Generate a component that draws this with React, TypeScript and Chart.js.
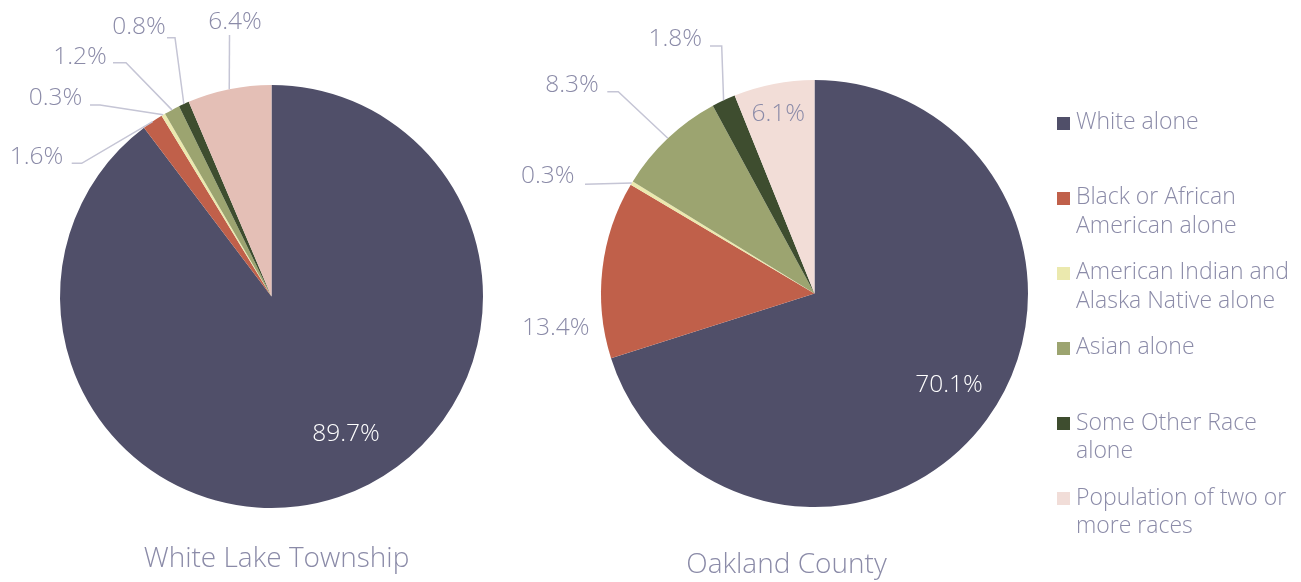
import React, { useEffect, useRef } from "react";
import { Chart, registerables } from "chart.js";

Chart.register(...registerables);

// ---------- data ----------
const categories = [
  "White alone",
  "Black or African American alone",
  "American Indian and Alaska Native alone",
  "Asian alone",
  "Some Other Race alone",
  "Population of two or more races",
];
const legendLines = [
  ["White alone"],
  ["Black or African", "American alone"],
  ["American Indian and", "Alaska Native alone"],
  ["Asian alone"],
  ["Some Other Race", "alone"],
  ["Population of two or", "more races"],
];
const whiteLakeValues = [89.7, 1.6, 0.3, 1.2, 0.8, 6.4];
const oaklandValues = [70.1, 13.4, 0.3, 8.3, 1.8, 6.1];
const chartTitles = ["White Lake Township", "Oakland County"];

// ---------- styles ----------
const legendColors = ["#504f69", "#c0604a", "#ebe9ae", "#9ca470", "#3e4d2f", "#f1ddd8"];
const whiteLakeColors = ["#504f69", "#c0604a", "#ebe9ae", "#9ca470", "#3e4d2f", "#e4bfb6"];
const oaklandColors = ["#504f69", "#c0604a", "#ebe9ae", "#9ca470", "#3e4d2f", "#f2ddd7"];
const TEXT = "#8b8ba8";
const LINE = "#c5c5d5";
const FONT = '"Open Sans", "Noto Sans", sans-serif';
const LABEL_SIZE = 24.5;
const LEGEND_SIZE = 23;
const TITLE_SIZE = 28;

type LabelLayout = { dx: number; dy: number; color: string; line?: [number, number][] };

// label placement, offsets (px) from the pie centre
const whiteLakeLayout: LabelLayout[] = [
  { dx: 74.5, dy: 144.2, color: "#ffffff" },
  { dx: -235, dy: -132.2, color: TEXT, line: [[-199.8, -133.2], [-189.8, -133.2]] },
  { dx: -216, dy: -191.5, color: TEXT, line: [[-181.5, -191.5], [-171.5, -191.5]] },
  { dx: -191.5, dy: -232.2, color: TEXT, line: [[-158.5, -233.8], [-145.5, -233.8]] },
  { dx: -132.5, dy: -262.5, color: TEXT, line: [[-104.5, -258.8], [-96.5, -258.8]] },
  { dx: -36.5, dy: -267.2, color: TEXT, line: [[-42, -261.5]] },
];
const oaklandLayout: LabelLayout[] = [
  { dx: 134.5, dy: 98.2, color: "#ffffff" },
  { dx: -258.7, dy: 41.5, color: TEXT },
  { dx: -266.7, dy: -110.2, color: TEXT, line: [[-229.5, -109.2]] },
  { dx: -242.5, dy: -201.8, color: TEXT, line: [[-207.2, -201.8], [-196.2, -201.8]] },
  { dx: -139.2, dy: -247.5, color: TEXT, line: [[-104.5, -247.5], [-92.8, -247.5]] },
  { dx: -36.2, dy: -172.8, color: TEXT },
];

function makeLabelPlugin(layout: LabelLayout[]) {
  return {
    id: "pieLabels",
    afterDatasetsDraw(chart: any) {
      const ctx = chart.ctx as CanvasRenderingContext2D;
      const meta = chart.getDatasetMeta(0);
      const values = chart.data.datasets[0].data as number[];
      ctx.save();
      meta.data.forEach((arc: any, i: number) => {
        const L = layout[i];
        if (!L) return;
        const { x, y, startAngle, endAngle, outerRadius } = arc.getProps(
          ["x", "y", "startAngle", "endAngle", "outerRadius"],
          true
        );
        const mid = (startAngle + endAngle) / 2;
        const ax = x + Math.cos(mid) * outerRadius;
        const ay = y + Math.sin(mid) * outerRadius;
        if (L.line) {
          ctx.beginPath();
          ctx.strokeStyle = LINE;
          ctx.lineWidth = 1.5;
          L.line.forEach((p, k) => {
            if (k === 0) ctx.moveTo(x + p[0], y + p[1]);
            else ctx.lineTo(x + p[0], y + p[1]);
          });
          ctx.lineTo(ax, ay);
          ctx.stroke();
        }
        ctx.fillStyle = L.color;
        ctx.font = `300 ${LABEL_SIZE}px ${FONT}`;
        ctx.textAlign = "center";
        ctx.textBaseline = "alphabetic";
        ctx.fillText(values[i].toFixed(1) + "%", x + L.dx, y + L.dy);
      });
      ctx.restore();
    },
  };
}

type PieProps = {
  values: number[];
  colors: string[];
  layout: LabelLayout[];
  padding: { left: number; top: number; right: number; bottom: number };
};

function PieCanvas({ values, colors, layout, padding }: PieProps) {
  const ref = useRef<HTMLCanvasElement>(null);
  useEffect(() => {
    const chart = new Chart(ref.current as HTMLCanvasElement, {
      type: "pie",
      data: {
        labels: categories,
        datasets: [{ data: values, backgroundColor: colors, borderWidth: 0 }],
      },
      options: {
        responsive: false,
        animation: false,
        layout: { padding },
        plugins: { legend: { display: false }, tooltip: { enabled: false } },
      },
      plugins: [makeLabelPlugin(layout)],
    } as any);
    return () => chart.destroy();
  }, []);
  return (
    <canvas
      ref={ref}
      width={1301}
      height={582}
      style={{ position: "absolute", left: 0, top: 0, width: 1301, height: 582 }}
    />
  );
}

// baseline position inside a line box for Open Sans (ascent 1.069, descent 0.293)
function baselineOffset(size: number, lineHeight: number) {
  return (lineHeight - 1.362 * size) / 2 + 1.069 * size;
}

export default function App() {
  const titleLH = 34;
  const legendLH = 28.5;
  return (
    <div
      style={{
        position: "fixed",
        left: 0,
        top: 0,
        width: 1301,
        height: 582,
        background: "#ffffff",
        overflow: "hidden",
        fontFamily: FONT,
        color: TEXT,
      }}
    >
      <PieCanvas
        values={whiteLakeValues}
        colors={whiteLakeColors}
        layout={whiteLakeLayout}
        padding={{ left: 60, top: 85, right: 818, bottom: 74 }}
      />
      <PieCanvas
        values={oaklandValues}
        colors={oaklandColors}
        layout={oaklandLayout}
        padding={{ left: 601, top: 80, right: 273, bottom: 75 }}
      />
      {/* titles */}
      {[
        { cx: 276.5, base: 567.3 },
        { cx: 786.5, base: 573.3 },
      ].map((t, i) => (
        <div
          key={chartTitles[i]}
          style={{
            position: "absolute",
            left: t.cx - 200,
            width: 400,
            top: t.base - baselineOffset(TITLE_SIZE, titleLH),
            textAlign: "center",
            fontSize: TITLE_SIZE,
            lineHeight: `${titleLH}px`,
            fontWeight: 300,
            whiteSpace: "nowrap",
          }}
        >
          {chartTitles[i]}
        </div>
      ))}
      {/* legend */}
      {legendLines.map((lines, i) => {
        const baseline = 129.3 + 75.1 * i;
        return (
          <React.Fragment key={categories[i]}>
            <div
              style={{
                position: "absolute",
                left: 1057,
                top: baseline - 12.7,
                width: 13,
                height: 13,
                background: legendColors[i],
              }}
            />
            <div
              style={{
                position: "absolute",
                left: 1076,
                top: baseline - baselineOffset(LEGEND_SIZE, legendLH),
                fontSize: LEGEND_SIZE,
                lineHeight: `${legendLH}px`,
                fontWeight: 300,
                whiteSpace: "nowrap",
              }}
            >
              {lines.map((t) => (
                <div key={t}>{t}</div>
              ))}
            </div>
          </React.Fragment>
        );
      })}
    </div>
  );
}
